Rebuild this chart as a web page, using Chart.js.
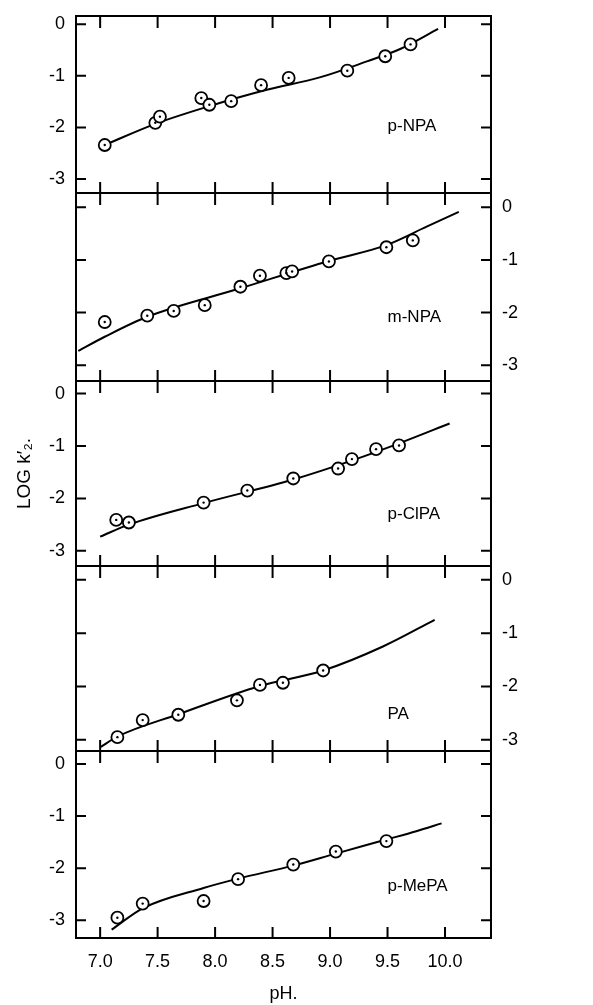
<!DOCTYPE html>
<html>
<head>
<meta charset="utf-8">
<script src="https://cdn.jsdelivr.net/npm/chart.js@4.4.0/dist/chart.umd.min.js"></script>
<style>
  body { margin: 0; background: #fff; }
  #wrap { position: relative; width: 593px; height: 1005px; }
  #wrap canvas { position: absolute; left: 0; top: 0; }
</style>
</head>
<body>
<div id="wrap">
  <canvas id="c1" width="593" height="1005"></canvas>
  <canvas id="c2" width="593" height="1005"></canvas>
  <canvas id="c3" width="593" height="1005"></canvas>
  <canvas id="c4" width="593" height="1005"></canvas>
  <canvas id="c5" width="593" height="1005"></canvas>
</div>
<script>
// tick values
let xTicks = [7.0, 7.5, 8.0, 8.5, 9.0, 9.5, 10.0];
let yTicks = [0, -1, -2, -3];

// p-NPA
let pnpaPH  = [7.04, 7.48, 7.52, 7.88, 7.95, 8.14, 8.40, 8.64, 9.15, 9.48, 9.70];
let pnpaLog = [-2.34, -1.91, -1.79, -1.43, -1.56, -1.49, -1.18, -1.04, -0.90, -0.62, -0.39];
let pnpaFitPH  = [7.04, 7.48, 7.99, 8.45, 8.91, 9.32, 9.61, 9.94];
let pnpaFitLog = [-2.34, -1.93, -1.56, -1.27, -1.03, -0.72, -0.48, -0.09];

// m-NPA
let mnpaPH  = [7.04, 7.41, 7.64, 7.91, 8.22, 8.39, 8.62, 8.67, 8.99, 9.49, 9.72];
let mnpaLog = [-2.18, -2.06, -1.97, -1.86, -1.51, -1.30, -1.25, -1.22, -1.03, -0.76, -0.63];
let mnpaFitPH  = [6.81, 7.04, 7.41, 8.22, 8.99, 9.49, 9.84, 10.12];
let mnpaFitLog = [-2.73, -2.46, -2.08, -1.54, -1.02, -0.72, -0.37, -0.09];

// p-ClPA
let pclpaPH  = [7.14, 7.25, 7.90, 8.28, 8.68, 9.07, 9.19, 9.40, 9.60];
let pclpaLog = [-2.41, -2.46, -2.08, -1.85, -1.62, -1.43, -1.25, -1.06, -0.99];
let pclpaFitPH  = [7.00, 7.25, 7.90, 8.68, 9.20, 9.60, 10.04];
let pclpaFitLog = [-2.73, -2.50, -2.09, -1.64, -1.27, -0.95, -0.57];

// PA
let paPH  = [7.15, 7.37, 7.68, 8.19, 8.39, 8.59, 8.94];
let paLog = [-2.95, -2.63, -2.53, -2.26, -1.97, -1.93, -1.70];
let paFitPH  = [7.00, 7.15, 7.68, 8.39, 8.94, 9.46, 9.91];
let paFitLog = [-3.14, -2.94, -2.52, -1.99, -1.70, -1.25, -0.75];

// p-MePA
let pmepaPH  = [7.15, 7.37, 7.90, 8.20, 8.68, 9.05, 9.49];
let pmepaLog = [-2.95, -2.68, -2.63, -2.21, -1.93, -1.68, -1.48];
let pmepaFitPH  = [7.10, 7.37, 7.90, 8.20, 8.68, 9.05, 9.49, 9.75, 9.97];
let pmepaFitLog = [-3.18, -2.77, -2.38, -2.20, -1.95, -1.72, -1.45, -1.29, -1.14];

Chart.defaults.font.family = '"Liberation Sans", Arial, sans-serif';
Chart.defaults.color = '#000';

const W = 593, H = 1005, LEFT = 76, RIGHT = 491;

const frame = {
  id: 'frame',
  afterDraw(chart, args, opts) {
    const { ctx, chartArea: a, scales: { x, y } } = chart;
    ctx.save();
    ctx.strokeStyle = '#000';
    ctx.lineWidth = 2;
    ctx.strokeRect(a.left, a.top, a.right - a.left, a.bottom - a.top);
    ctx.beginPath();
    xTicks.forEach(v => {
      const px = x.getPixelForValue(v);
      ctx.moveTo(px, a.top); ctx.lineTo(px, a.top + 12);
      ctx.moveTo(px, a.bottom); ctx.lineTo(px, a.bottom - 11);
    });
    yTicks.forEach(v => {
      const py = y.getPixelForValue(v);
      ctx.moveTo(a.left, py); ctx.lineTo(a.left + 10, py);
      ctx.moveTo(a.right, py); ctx.lineTo(a.right - 10, py);
    });
    ctx.stroke();
    ctx.font = '17px "Liberation Sans", Arial, sans-serif';
    ctx.fillStyle = '#000';
    ctx.textAlign = 'left';
    ctx.textBaseline = 'middle';
    ctx.fillText(opts.label, x.getPixelForValue(opts.at[0]), y.getPixelForValue(opts.at[1]));
    ctx.restore();
  }
};

function xy(xs, ys) {
  return xs.map((v, i) => ({ x: v, y: ys[i] }));
}

function panel(id, p) {
  const bottomAxis = !!p.showX;
  new Chart(document.getElementById(id), {
    type: 'scatter',
    data: {
      datasets: [
        { data: xy(p.px, p.py), pointRadius: 1.2, pointBackgroundColor: '#000',
          pointBorderWidth: 0, showLine: false, order: 1 },
        { data: xy(p.px, p.py), pointRadius: 6, pointBackgroundColor: '#fff',
          pointBorderColor: '#000', pointBorderWidth: 1.8, showLine: false, order: 2 },
        { data: xy(p.fx, p.fy), showLine: true, pointRadius: 0, borderColor: '#000',
          borderWidth: 2, cubicInterpolationMode: 'monotone', order: 3 }
      ]
    },
    options: {
      responsive: false,
      animation: false,
      layout: {
        padding: {
          left: p.side === 'left' ? 0 : LEFT,
          right: p.side === 'right' ? 0 : W - RIGHT,
          top: p.top,
          bottom: bottomAxis ? 0 : H - p.bottom
        }
      },
      scales: {
        x: {
          type: 'linear', min: 6.79, max: 10.40, display: bottomAxis,
          afterBuildTicks: s => { s.ticks = xTicks.map(v => ({ value: v })); },
          afterFit: s => {
            s.height = bottomAxis ? H - p.bottom : 0;
            s.paddingLeft = 0; s.paddingRight = 0;
          },
          grid: { display: false, drawTicks: false },
          border: { display: false },
          ticks: { padding: 13, font: { size: 18 }, maxRotation: 0, autoSkip: false,
                   callback: v => v.toFixed(1) },
          title: { display: bottomAxis, text: 'pH.', font: { size: 18 }, padding: { top: 0, bottom: 0 } }
        },
        y: {
          type: 'linear', position: p.side, min: p.ymin, max: p.ymax,
          afterBuildTicks: s => { s.ticks = yTicks.map(v => ({ value: v })); },
          afterFit: s => {
            s.width = p.side === 'left' ? LEFT : W - RIGHT;
            s.paddingTop = 0; s.paddingBottom = 0;
          },
          grid: { display: false, drawTicks: false },
          border: { display: false },
          ticks: { padding: 11, font: { size: 18 }, callback: v => String(v) },
          title: { display: !!p.title, text: p.title || '', font: { size: 19 },
                   padding: { top: 13, bottom: 0 } }
        }
      },
      plugins: {
        legend: { display: false },
        tooltip: { enabled: false },
        frame: { label: p.label, at: p.at }
      }
    },
    plugins: [frame]
  });
}

panel('c1', { top: 16, bottom: 193, ymin: -3.27, ymax: 0.16, side: 'left',
  px: pnpaPH, py: pnpaLog, fx: pnpaFitPH, fy: pnpaFitLog, label: 'p-NPA', at: [9.5, -1.98] });
panel('c2', { top: 193, bottom: 381, ymin: -3.30, ymax: 0.27, side: 'right',
  px: mnpaPH, py: mnpaLog, fx: mnpaFitPH, fy: mnpaFitLog, label: 'm-NPA', at: [9.5, -2.1] });
panel('c3', { top: 381, bottom: 566, ymin: -3.29, ymax: 0.24, side: 'left', title: 'LOG k\u2032\u2082.',
  px: pclpaPH, py: pclpaLog, fx: pclpaFitPH, fy: pclpaFitLog, label: 'p-ClPA', at: [9.5, -2.3] });
panel('c4', { top: 566, bottom: 751, ymin: -3.21, ymax: 0.26, side: 'right',
  px: paPH, py: paLog, fx: paFitPH, fy: paFitLog, label: 'PA', at: [9.5, -2.53] });
panel('c5', { top: 751, bottom: 938, ymin: -3.34, ymax: 0.25, side: 'left', showX: true,
  px: pmepaPH, py: pmepaLog, fx: pmepaFitPH, fy: pmepaFitLog, label: 'p-MePA', at: [9.5, -2.35] });
</script>
</body>
</html>
